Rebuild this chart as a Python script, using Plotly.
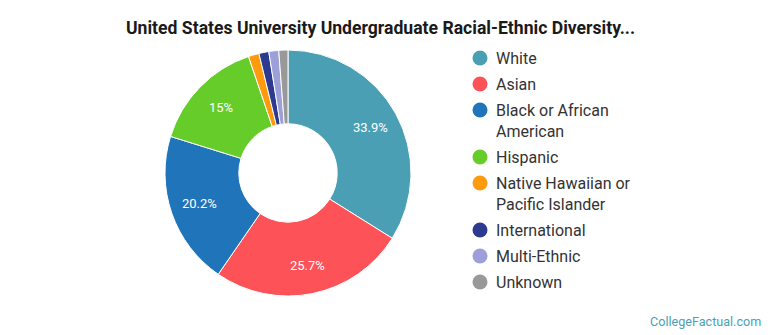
import math
import plotly.graph_objects as go

# Undergraduate racial-ethnic breakdown (percent of students)
labels = ["White", "Asian", "Black or African American", "Hispanic",
          "Native Hawaiian or Pacific Islander", "International",
          "Multi-Ethnic", "Unknown"]
legend_labels = ["White", "Asian", "Black or African<br>American", "Hispanic",
                 "Native Hawaiian or<br>Pacific Islander", "International",
                 "Multi-Ethnic", "Unknown"]
shares = [33.9, 25.7, 20.2, 15.0, 1.4, 1.3, 1.3, 1.2]
colors = ["#4a9fb5", "#fd5257", "#1f74ba", "#66cc2a",
          "#fe9a0e", "#2c3b8f", "#9c9fd8", "#999999"]

W, H = 770, 335
CX, CY, R = 288, 173, 123   # donut centre and outer radius (px)
LABEL_R = 94                 # radius where the percentage labels sit

fig = go.Figure()
fig.add_trace(go.Pie(
    labels=labels,
    values=shares,
    textinfo="none",
    hole=0.4,
    sort=False,
    direction="clockwise",
    rotation=0,
    marker=dict(colors=colors, line=dict(color="white", width=1)),
    hoverinfo="label+percent",
    showlegend=False,
    domain=dict(x=[(CX - R) / W, (CX + R) / W],
                y=[(H - CY - R) / H, (H - CY + R) / H]),
))

annotations = []
shapes = []

# Percentage labels on the larger slices, placed at each slice's mid-angle
total = sum(shares)
cum = 0.0
for v in shares:
    mid = (cum + v / 2) / total * 2 * math.pi
    cum += v
    if v < 5:
        continue
    px = CX + LABEL_R * math.sin(mid)
    py = CY - LABEL_R * math.cos(mid)
    annotations.append(dict(text=f"{v:g}%", xref="paper", yref="paper",
                            x=px / W, y=1 - py / H,
                            xanchor="center", yanchor="middle",
                            showarrow=False,
                            font=dict(family="Roboto", size=13, color="white")))

# Legend: circle swatch plus label for each category
y_px = 58
for lab, col in zip(legend_labels, colors):
    lines = lab.count("<br>") + 1
    yc = 1 - y_px / H
    shapes.append(dict(type="circle", xref="paper", yref="paper",
                       xsizemode="pixel", ysizemode="pixel",
                       xanchor=480 / W, yanchor=yc,
                       x0=-7.5, x1=7.5, y0=-7.5, y1=7.5,
                       fillcolor=col, line=dict(width=0)))
    annotations.append(dict(text=lab, xref="paper", yref="paper",
                            x=494 / W, y=1 - (y_px - 11) / H,
                            xanchor="left", yanchor="top", align="left",
                            showarrow=False,
                            font=dict(family="Roboto", size=16, color="#333333")))
    y_px += 26 + 21 * (lines - 1)

annotations.append(dict(
    text="<b>United States University Undergraduate Racial-Ethnic Diversity...</b>",
    xref="paper", yref="paper", x=380 / W, y=1 - 28 / H,
    xanchor="center", yanchor="middle", showarrow=False,
    font=dict(family="Roboto", size=17.6, color="#1a1a1a")))

annotations.append(dict(
    text="CollegeFactual.com", xref="paper", yref="paper",
    x=763 / W, y=1 - 321 / H, xanchor="right", yanchor="middle",
    showarrow=False,
    font=dict(family="Roboto", size=12.6, color="#4a9fb5")))

fig.update_layout(
    width=W, height=H,
    margin=dict(l=0, r=0, t=0, b=0),
    paper_bgcolor="white",
    plot_bgcolor="white",
    annotations=annotations,
    shapes=shapes,
)

fig.write_html("out.html")
